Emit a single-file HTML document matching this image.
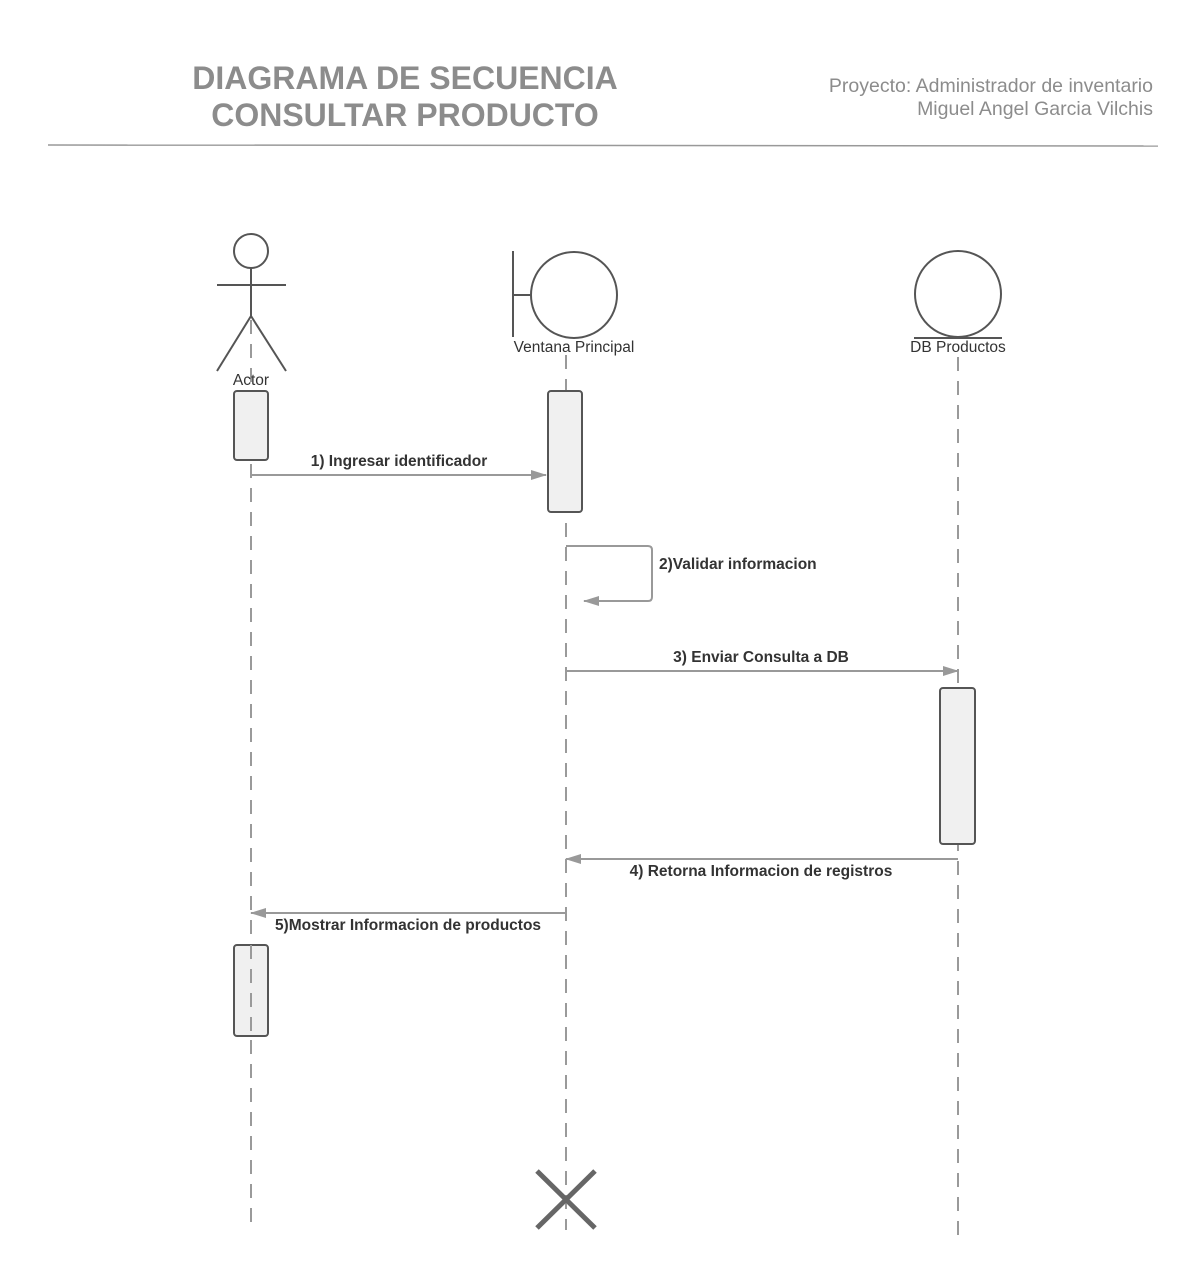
<!DOCTYPE html>
<html><head><meta charset="utf-8"><style>
html,body{margin:0;padding:0;background:#fff;}
svg{display:block;}
text{font-family:"Liberation Sans",sans-serif;}
</style></head><body>
<svg width="1193" height="1280" viewBox="0 0 1193 1280" xmlns="http://www.w3.org/2000/svg">
<defs>
<marker id="ah" markerWidth="16" markerHeight="10" refX="15" refY="5" orient="auto" markerUnits="userSpaceOnUse">
<path d="M0,0 L16,5 L0,10 Z" fill="#999"/></marker>
</defs>
<!-- header -->
<text x="405" y="89" font-size="32" font-weight="bold" fill="#8c8c8c" text-anchor="middle">DIAGRAMA DE SECUENCIA</text>
<text x="405" y="126" font-size="32" font-weight="bold" fill="#8c8c8c" text-anchor="middle">CONSULTAR PRODUCTO</text>
<text x="1153" y="92" font-size="19.5" fill="#8c8c8c" text-anchor="end">Proyecto: Administrador de inventario</text>
<text x="1153" y="115" font-size="19.5" fill="#8c8c8c" text-anchor="end">Miguel Angel Garcia Vilchis</text>
<line x1="48" y1="145" x2="1158" y2="146" stroke="#999" stroke-width="1.5"/>

<g stroke="#9a9a9a" stroke-width="2" stroke-dasharray="14,10" fill="none">
<line x1="251" y1="320" x2="251" y2="1230"/>
<line x1="566" y1="355" x2="566" y2="1230"/>
<line x1="958" y1="357" x2="958" y2="1245"/>
</g>

<!-- actor -->
<g stroke="#555" stroke-width="2" fill="none">
<circle cx="251" cy="251" r="17" fill="#fff"/>
<line x1="217" y1="285" x2="286" y2="285"/>
<line x1="251" y1="268" x2="251" y2="316"/>
<line x1="251" y1="316" x2="217" y2="371"/>
<line x1="251" y1="316" x2="286" y2="371"/>
</g>
<text x="251" y="385" font-size="15.5" fill="#333" text-anchor="middle">Actor</text>

<!-- boundary -->
<g stroke="#555" stroke-width="2" fill="none">
<line x1="513" y1="251" x2="513" y2="337"/>
<line x1="513" y1="295" x2="530" y2="295"/>
<circle cx="574" cy="295" r="43" fill="#fff"/>
</g>
<text x="574" y="352" font-size="15.5" fill="#333" text-anchor="middle">Ventana Principal</text>

<!-- entity -->
<g stroke="#555" stroke-width="2" fill="none">
<circle cx="958" cy="294" r="43" fill="#fff"/>
<line x1="914" y1="338" x2="1002" y2="338"/>
</g>
<text x="958" y="352" font-size="15.5" fill="#333" text-anchor="middle">DB Productos</text>

<!-- activations -->
<g stroke="#555" stroke-width="2" fill="#f0f0f0">
<rect x="234" y="391" width="34" height="69" rx="3"/>
<rect x="548" y="391" width="34" height="121" rx="3"/>
<rect x="940" y="688" width="35" height="156" rx="3"/>
<rect x="234" y="945" width="34" height="91" rx="3"/>
</g>
<line x1="251" y1="945" x2="251" y2="1036" stroke="#9a9a9a" stroke-width="2" stroke-dasharray="14,10"/>

<!-- messages -->
<g stroke="#999" stroke-width="2" fill="none">
<line x1="251" y1="475" x2="546" y2="475" marker-end="url(#ah)"/>
<path d="M566,546 L648,546 Q652,546 652,550 L652,597 Q652,601 648,601 L584,601" marker-end="url(#ah)"/>
<line x1="566" y1="671" x2="958" y2="671" marker-end="url(#ah)"/>
<line x1="958" y1="859" x2="566" y2="859" marker-end="url(#ah)"/>
<line x1="566" y1="913" x2="251" y2="913" marker-end="url(#ah)"/>
</g>
<g font-size="15.5" font-weight="bold" fill="#333">
<text x="399" y="466" text-anchor="middle">1) Ingresar identificador</text>
<text x="659" y="569">2)Validar informacion</text>
<text x="761" y="662" text-anchor="middle">3) Enviar Consulta a DB</text>
<text x="761" y="876" text-anchor="middle">4) Retorna Informacion de registros</text>
<text x="408" y="930" text-anchor="middle">5)Mostrar Informacion de productos</text>
</g>

<!-- destroy -->
<g stroke="#666" stroke-width="5">
<line x1="537" y1="1171" x2="595" y2="1228"/>
<line x1="595" y1="1171" x2="537" y2="1228"/>
</g>
</svg>
</body></html>
